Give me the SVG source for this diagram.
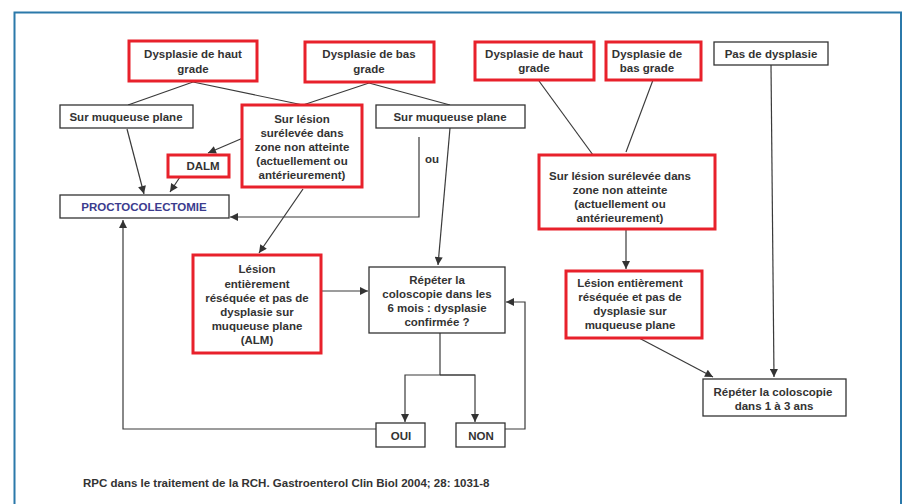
<svg xmlns="http://www.w3.org/2000/svg" width="903" height="504" viewBox="0 0 903 504">
<defs>
<marker id="arr" viewBox="0 0 10 10" refX="10" refY="5" markerWidth="9" markerHeight="8" markerUnits="userSpaceOnUse" orient="auto">
<path d="M0,0 L10,5 L0,10 Z" fill="#333"/>
</marker>
<style>
.red{fill:#fff;stroke:#e8212b;stroke-width:3}
.blk{fill:#fff;stroke:#333;stroke-width:1.3}
text{font-family:"Liberation Sans",Arial,sans-serif;font-weight:bold;font-size:11.5px;fill:#333;text-anchor:middle}
.ln{fill:none;stroke:#3a3a3a;stroke-width:1.2}
.ar{fill:none;stroke:#3a3a3a;stroke-width:1.2;marker-end:url(#arr)}
</style>
</defs>
<rect width="903" height="504" fill="#fff"/>
<path d="M14.5,504 V12.5 H901 V504" fill="none" stroke="#2b79aa" stroke-width="2"/>

<g id="connectors">
<path class="ln" d="M193,82 L128,105"/>
<path class="ln" d="M193,82 L303,105"/>
<path class="ln" d="M369,83 L303,105"/>
<path class="ln" d="M369,83 L450,105"/>
<path class="ar" d="M127,129 L144,194"/>
<path class="ar" d="M243,138 L208,153"/>
<path class="ar" d="M180,177 L170,192"/>
<path class="ar" d="M419,137 V217 H230"/>
<path class="ar" d="M450,128 L438,265"/>
<path class="ar" d="M303,189 L259,253"/>
<path class="ar" d="M321,291 H368"/>
<path class="ar" d="M376,429 H123 V220"/>
<path class="ln" d="M440,333 V375"/>
<path class="ar" d="M475,375 H405 V422"/>
<path class="ar" d="M440,375 H475 V422"/>
<path class="ar" d="M505,429 H525 V302 H506"/>
<path class="ln" d="M539,81 L593,155"/>
<path class="ln" d="M653,80 L626,152"/>
<path class="ar" d="M626,229 V269"/>
<path class="ar" d="M639,338 L713,377"/>
<path class="ar" d="M771,65 L774,377"/>
</g>

<g id="dhg1"><rect class="red" x="129" y="41" width="128" height="40"/><text x="193" y="58">Dysplasie de haut</text><text x="193" y="73">grade</text></g>
<g id="dbg1"><rect class="red" x="305" y="42" width="129" height="40"/><text x="369" y="58">Dysplasie de bas</text><text x="369" y="73">grade</text></g>
<g id="smp1"><rect class="blk" x="60" y="105" width="133" height="23"/><text x="126" y="121">Sur muqueuse plane</text></g>
<g id="lesion1"><rect class="red" x="242" y="105" width="120" height="82"/>
<text x="302" y="123">Sur lésion</text><text x="302" y="137">surélevée dans</text><text x="302" y="151">zone non atteinte</text><text x="302" y="165">(actuellement ou</text><text x="302" y="179">antérieurement)</text></g>
<g id="smp2"><rect class="blk" x="376" y="105" width="149" height="23"/><text x="450" y="121">Sur muqueuse plane</text></g>
<g id="dalm"><rect class="red" x="168" y="155" width="61" height="22"/><text x="203" y="170">DALM</text></g>
<g id="procto"><rect class="blk" x="60" y="195" width="169" height="23"/><text x="144" y="211" style="fill:#3b3b8e">PROCTOCOLECTOMIE</text></g>
<g id="ou"><text x="432" y="163">ou</text></g>
<g id="alm1"><rect class="red" x="193" y="255" width="128" height="98"/>
<text x="257" y="273">Lésion</text><text x="257" y="288">entièrement</text><text x="257" y="302">réséquée et pas de</text><text x="257" y="316">dysplasie sur</text><text x="257" y="330">muqueuse plane</text><text x="257" y="344">(ALM)</text></g>
<g id="repeter6"><rect class="blk" x="369" y="267" width="136" height="66"/>
<text x="437" y="284">Répéter la</text><text x="437" y="298">coloscopie dans les</text><text x="437" y="312">6 mois : dysplasie</text><text x="437" y="326">confirmée ?</text></g>
<g id="oui"><rect class="blk" x="376" y="423" width="49" height="24"/><text x="401" y="440">OUI</text></g>
<g id="non"><rect class="blk" x="456" y="423" width="49" height="24"/><text x="481" y="440">NON</text></g>

<g id="dhg2"><rect class="red" x="475" y="42" width="119" height="38"/><text x="534" y="58">Dysplasie de haut</text><text x="534" y="72">grade</text></g>
<g id="dbg2"><rect class="red" x="606" y="42" width="95" height="38"/><text x="647" y="58">Dysplasie de</text><text x="647" y="72">bas grade</text></g>
<g id="pasdys"><rect class="blk" x="714" y="42" width="114" height="23"/><text x="771" y="58">Pas de dysplasie</text></g>
<g id="lesion2"><rect class="red" x="539" y="155" width="176" height="74"/>
<text x="620" y="180">Sur lésion surélevée dans</text><text x="620" y="194">zone non atteinte</text><text x="620" y="208">(actuellement ou</text><text x="620" y="222">antérieurement)</text></g>
<g id="alm2"><rect class="red" x="566" y="271" width="136" height="67"/>
<text x="630" y="287">Lésion entièrement</text><text x="630" y="301">réséquée et pas de</text><text x="630" y="315">dysplasie sur</text><text x="630" y="329">muqueuse plane</text></g>
<g id="repeter13"><rect class="blk" x="703" y="379" width="143" height="37"/>
<text x="773" y="396">Répéter la coloscopie</text><text x="774" y="410">dans 1 à 3 ans</text></g>

<text x="83" y="487" style="text-anchor:start;font-size:11.5px">RPC dans le traitement de la RCH. Gastroenterol Clin Biol 2004; 28: 1031-8</text>
</svg>
